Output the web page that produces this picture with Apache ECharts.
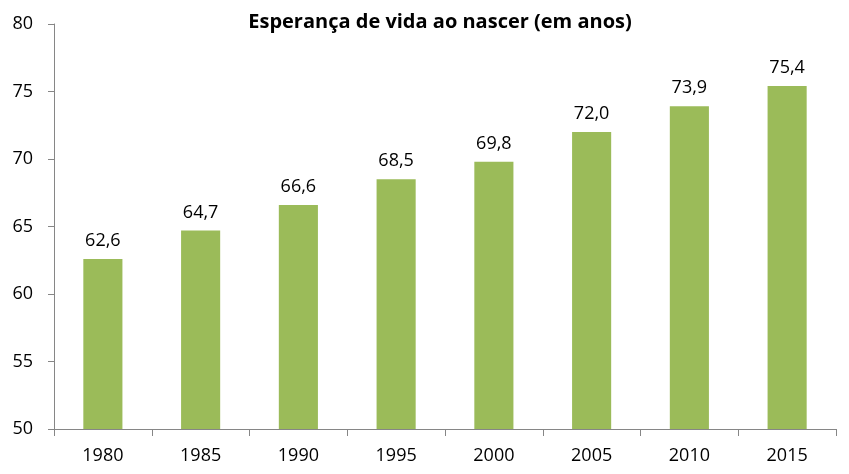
<!DOCTYPE html>
<html>
<head>
<meta charset="utf-8">
<script src="https://cdn.jsdelivr.net/npm/echarts@6/dist/echarts.min.js"></script>
<style>
  html, body { margin: 0; padding: 0; background: #fff; }
  #main { width: 849px; height: 474px; }
</style>
</head>
<body>
<div id="main"></div>
<script>
  var anos = ['1980', '1985', '1990', '1995', '2000', '2005', '2010', '2015'];
  var esperanca = [62.6, 64.7, 66.6, 68.5, 69.8, 72.0, 73.9, 75.4];
  var titulo = 'Esperança de vida ao nascer (em anos)';

  var chart = echarts.init(document.getElementById('main'));
  var fonte = "'Open Sans', 'Liberation Sans', sans-serif";

  var option = {
    animation: false,
    title: {
      text: titulo,
      left: 435,
      top: 7,
      textAlign: 'center',
      textStyle: { fontFamily: fonte, fontSize: 20, fontWeight: 'bold', color: '#000' }
    },
    grid: { left: 54, right: 13, top: 24, bottom: 45 },
    xAxis: {
      type: 'category',
      data: anos,
      axisLine: { lineStyle: { color: '#868686', width: 1 } },
      axisTick: { show: true, length: 7, lineStyle: { color: '#868686' } },
      axisLabel: { color: '#000', fontFamily: fonte, fontSize: 18, margin: 18 }
    },
    yAxis: {
      type: 'value',
      min: 50,
      max: 80,
      interval: 5,
      splitLine: { show: false },
      axisLine: { show: true, lineStyle: { color: '#868686', width: 1 } },
      axisTick: { show: true, length: 6, lineStyle: { color: '#868686' } },
      axisLabel: { color: '#000', fontFamily: fonte, fontSize: 18, margin: 21 }
    },
    series: [{
      type: 'bar',
      data: esperanca,
      barWidth: '40%',
      itemStyle: { color: '#9BBB59' },
      label: {
        show: true,
        position: 'top',
        distance: 9,
        color: '#000',
        fontFamily: fonte,
        fontSize: 18,
        formatter: function (p) { return p.value.toFixed(1).replace('.', ','); }
      }
    }]
  };
  chart.setOption(option);
</script>
</body>
</html>
